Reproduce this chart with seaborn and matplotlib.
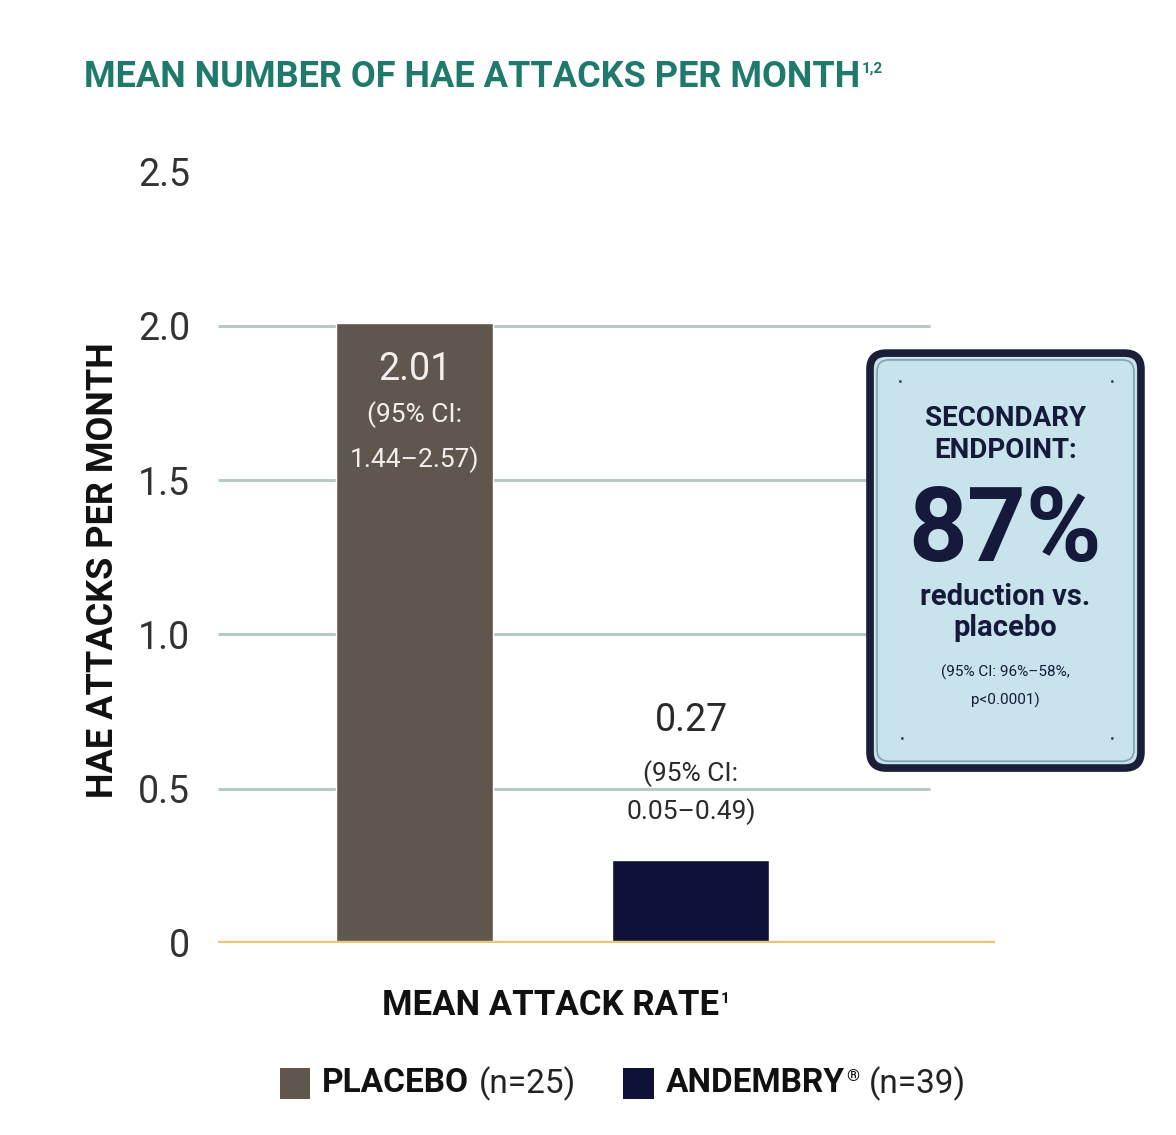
import matplotlib
matplotlib.use("Agg")
import matplotlib.pyplot as plt
from matplotlib.patches import FancyBboxPatch, Rectangle
import seaborn as sns
import pandas as pd

# ---- data -------------------------------------------------------------
groups = ["PLACEBO", "ANDEMBRY"]
mean_rate = [2.01, 0.27]
ci_low = [1.44, 0.05]
ci_high = [2.57, 0.49]
n_patients = [25, 39]
bar_colors = ["#5f574e", "#0e1238"]
y_ticks = [0, 0.5, 1.0, 1.5, 2.0, 2.5]
y_tick_labels = ["0", "0.5", "1.0", "1.5", "2.0", "2.5"]
grid_levels = [0.5, 1.0, 1.5, 2.0]

df = pd.DataFrame({"group": groups, "rate": mean_rate})

sns.set_theme(style="white")
FONT = ["Roboto", "DejaVu Sans"]
plt.rcParams["font.family"] = FONT

NAVY = "#15193a"
TEAL = "#1f7a6c"

fig = plt.figure(figsize=(11.76, 11.35), dpi=100)
fig.patch.set_facecolor("white")
ax = fig.add_axes([0.1854, 0.1692, 0.6607, 0.6934])

# horizontal guide lines behind the bars
ax.hlines(grid_levels, -0.711, 1.864, color="#b8cac7", lw=2.2, zorder=0)
ax.axhline(0, color="#e8c872", lw=3.2, zorder=3)

sns.barplot(data=df, x="group", y="rate", hue="group", palette=bar_colors,
            width=0.568, legend=False, ax=ax, zorder=2, saturation=1)

ax.set_xlim(-0.711, 2.10)
ax.set_ylim(0, 2.55)
ax.set_yticks(y_ticks)
ax.set_yticklabels(y_tick_labels, fontsize=27, color="#333333")
ax.tick_params(axis="y", length=0, pad=20)
ax.set_xticks([])
ax.set_xlabel("")
ax.set_ylabel("HAE ATTACKS PER MONTH", fontsize=26, fontweight="bold",
              color="#111111")
ax.yaxis.set_label_coords(-0.125, 0.474)
for s in ax.spines.values():
    s.set_visible(False)

# value labels: first line, then the two confidence-interval lines
label_offsets = [[-0.153, -0.299, -0.444], [0.45, 0.28, 0.155]]
for i, (v, lo, hi) in enumerate(zip(mean_rate, ci_low, ci_high)):
    col = "#f2f0ec" if v > 1 else "#2a2a2a"
    o = label_offsets[i]
    ax.text(i, v + o[0], f"{v:.2f}", ha="center", va="center", fontsize=27, color=col)
    ax.text(i, v + o[1], "(95% CI:", ha="center", va="center", fontsize=19, color=col)
    ax.text(i, v + o[2], f"{lo:.2f}\u2013{hi:.2f})", ha="center", va="center",
            fontsize=19, color=col)

# title
t = fig.text(0.0714, 0.932, "MEAN NUMBER OF HAE ATTACKS PER MONTH", fontsize=26,
             fontweight="bold", color=TEAL, ha="left", va="center")
ax.annotate("1,2", xy=(1, 0.92), xycoords=t, xytext=(1, 0), textcoords="offset points",
            fontsize=11, fontweight="bold", color=TEAL, ha="left", va="top")

# x caption
xl = fig.text(0.468, 0.114, "MEAN ATTACK RATE", fontsize=25, fontweight="bold",
              color="#111111", ha="center", va="center")
ax.annotate("1", xy=(1, 0.92), xycoords=xl, xytext=(1, 0), textcoords="offset points",
            fontsize=11, fontweight="bold", color="#111111", ha="left", va="top")

# legend
legend_x = [0.238, 0.530]
for gx, name, n, c in zip(legend_x, groups, n_patients, bar_colors):
    fig.patches.append(Rectangle((gx, 0.032), 0.026, 0.027, transform=fig.transFigure,
                                 facecolor=c, edgecolor="none"))
    nm = fig.text(gx + 0.036, 0.0455, name, fontsize=24, fontweight="bold",
                  color="#111111", ha="left", va="center")
    last = nm
    if name == "ANDEMBRY":
        last = ax.annotate("\u00ae", xy=(1, 0.95), xycoords=nm, xytext=(1, 0),
                           textcoords="offset points", fontsize=12, fontweight="bold",
                           color="#111111", ha="left", va="top")
    ax.annotate(f"(n={n})", xy=(1, 0.5), xycoords=(last, nm), xytext=(7, 0),
                textcoords="offset points", fontsize=24, color="#222222",
                ha="left", va="center")

# secondary endpoint call-out
bx, by, bw, bh = 0.7398, 0.3233, 0.2304, 0.3656
outer = FancyBboxPatch((bx, by), bw, bh, boxstyle="round,pad=0,rounding_size=0.014",
                       transform=fig.transFigure, facecolor="#c8e3ec",
                       edgecolor="#1a1e36", lw=5.5, zorder=5)
fig.patches.append(outer)
inner = FancyBboxPatch((bx + 0.006, by + 0.006), bw - 0.012, bh - 0.012,
                       boxstyle="round,pad=0,rounding_size=0.010",
                       transform=fig.transFigure, facecolor="none",
                       edgecolor="#7ea3b2", lw=1.2, zorder=6)
fig.patches.append(inner)
for dx, dy in [(900, 383), (1112, 383), (902, 740), (1112, 740)]:
    fig.text(dx / 1176, 1 - dy / 1135, "\u2022", fontsize=10, color="#3a4a60",
             ha="center", va="center", zorder=7)

cx = (bx + bw / 2)
fig.text(cx, 1 - 418 / 1135, "SECONDARY", fontsize=20, fontweight="bold",
         color=NAVY, ha="center", va="center", zorder=7)
fig.text(cx, 1 - 450 / 1135, "ENDPOINT:", fontsize=20, fontweight="bold",
         color=NAVY, ha="center", va="center", zorder=7)
fig.text(cx, 1 - 533 / 1135, "87%", fontsize=74, fontweight="bold",
         color=NAVY, ha="center", va="center", zorder=7)
fig.text(cx, 1 - 597 / 1135, "reduction vs.", fontsize=21, fontweight="bold",
         color=NAVY, ha="center", va="center", zorder=7)
pl = fig.text(cx, 1 - 628 / 1135, "placebo", fontsize=21, fontweight="bold",
              color=NAVY, ha="center", va="center", zorder=7)
ax.annotate("*", xy=(1, 0.95), xycoords=pl, xytext=(1, 0), textcoords="offset points",
            fontsize=11, fontweight="bold", color=NAVY, ha="left", va="top", zorder=7)
fig.text(cx, 1 - 672 / 1135, "(95% CI: 96%\u201358%,", fontsize=11,
         color=NAVY, ha="center", va="center", zorder=7)
fig.text(cx, 1 - 700 / 1135, "p<0.0001)", fontsize=11,
         color=NAVY, ha="center", va="center", zorder=7)

fig.savefig("out.png", dpi=100, facecolor="white")
